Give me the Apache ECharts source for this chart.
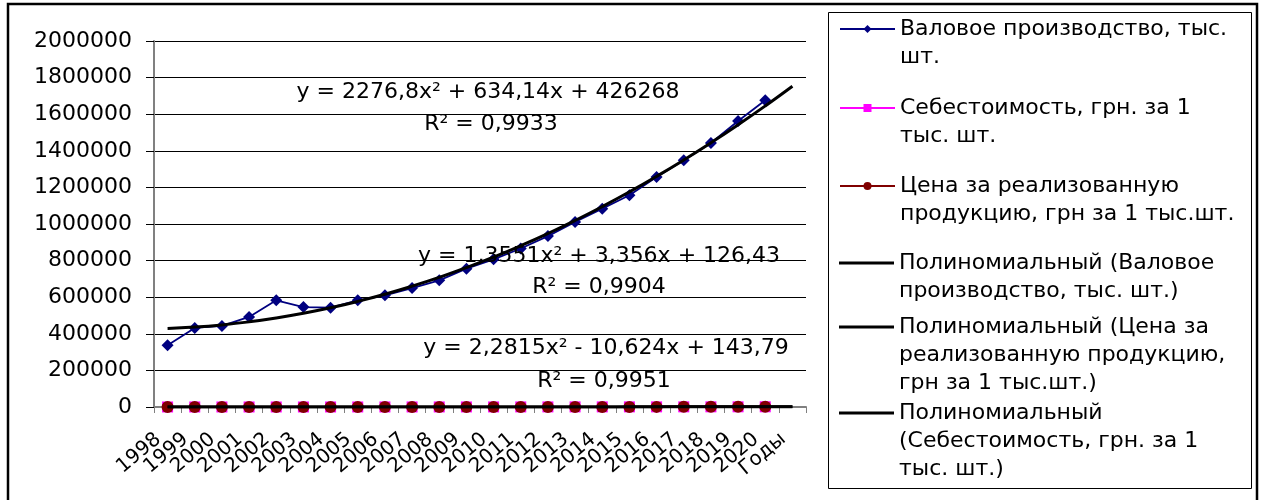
<!DOCTYPE html>
<html><head><meta charset="utf-8">
<script src="https://cdn.jsdelivr.net/npm/echarts@6/dist/echarts.min.js"></script>
<style>html,body{margin:0;padding:0;background:#fff}#c{width:1266px;height:500px}</style>
</head><body><div id="c"></div><script>
const years = ['1998','1999','2000','2001','2002','2003','2004','2005','2006','2007','2008','2009','2010','2011','2012','2013','2014','2015','2016','2017','2018','2019','2020','Годы'];
const grossOutput = [337000, 432000, 443000, 492000, 583000, 546000, 543000, 583000, 610000, 650000, 692000, 756000, 807000, 866000, 934000, 1011000, 1084000, 1157000, 1257000, 1348000, 1443000, 1563000, 1676000, null];
const costPerThousand = [140, 128, 130, 140, 150, 160, 175, 200, 235, 270, 300, 340, 395, 445, 500, 555, 620, 690, 770, 840, 925, 1010, 1110, null];
const pricePerThousand = [128, 140, 150, 160, 175, 195, 215, 240, 265, 295, 325, 360, 400, 440, 480, 525, 575, 625, 680, 735, 795, 855, 920, null];
const trendGross = [429179, 436643, 448662, 465233, 486359, 512038, 542270, 577056, 616396, 660289, 708736, 761737, 819291, 881399, 948060, 1019275, 1095044, 1175366, 1260241, 1349671, 1443654, 1542190, 1645280, 1752924];
const trendPrice = [131, 139, 149, 162, 177, 195, 216, 240, 266, 295, 327, 361, 399, 439, 481, 527, 575, 626, 679, 735, 794, 856, 920, 987];
const trendCost = [135, 131, 132, 137, 147, 162, 181, 205, 233, 266, 303, 344, 391, 442, 498, 558, 622, 691, 765, 843, 926, 1013, 1105, 1202];
const yTicks = {min: 0, max: 2000000, step: 200000};

const names = [
  'Валовое производство, тыс. шт.',
  'Себестоимость, грн. за 1 тыс. шт.',
  'Цена за реализованную продукцию, грн за 1 тыс.шт.',
  'Полиномиальный (Валовое производство, тыс. шт.)',
  'Полиномиальный (Цена за реализованную продукцию, грн за 1 тыс.шт.)',
  'Полиномиальный (Себестоимость, грн. за 1 тыс. шт.)'
];
const legendLines = [
  ['Валовое производство, тыс.', 'шт.'],
  ['Себестоимость, грн. за 1', 'тыс. шт.'],
  ['Цена за реализованную', 'продукцию, грн за 1 тыс.шт.'],
  ['Полиномиальный (Валовое', 'производство, тыс. шт.)'],
  ['Полиномиальный (Цена за', 'реализованную продукцию,', 'грн за 1 тыс.шт.)'],
  ['Полиномиальный', '(Себестоимость, грн. за 1', 'тыс. шт.)']
];
const equations = [
  ['y = 2276,8x² + 634,14x + 426268', 'R² = 0,9933'],
  ['y = 1,3551x² + 3,356x + 126,43', 'R² = 0,9904'],
  ['y = 2,2815x² - 10,624x + 143,79', 'R² = 0,9951']
];

const FONT = 'DejaVu Sans';
const LH = 28;
const iconY = [29, 108, 186, 263, 327, 413];

const legends = names.map((n, i) => {
  const lines = legendLines[i];
  const pad = lines.length - 1;
  const text = Array(pad).fill('').concat(lines).join('\n');
  const blockH = (pad + lines.length) * LH;
  const isTrend = i >= 3;
  return {
    show: true,
    orient: 'vertical',
    left: 839,
    top: iconY[i] - blockH / 2,
    padding: 0,
    selectedMode: false,
    itemWidth: 55,
    itemHeight: isTrend ? 3 : 10,
    data: [isTrend ? {name: n, icon: 'rect'} : {name: n}],
    formatter: () => text,
    textStyle: {fontFamily: FONT, fontSize: 22, lineHeight: LH, color: '#000'}
  };
});

const eqPos = [[488, 92, 491, 124], [599, 256, 599, 287], [606, 348, 604, 381]];
const graphics = [
  {type: 'rect', shape: {x: 8, y: 4, width: 1249, height: 502}, style: {fill: 'none', stroke: '#000', lineWidth: 2.5}, silent: true},
  {type: 'rect', shape: {x: 828.5, y: 12.5, width: 423, height: 476}, style: {fill: 'none', stroke: '#000', lineWidth: 1}, silent: true}
];
equations.forEach((eq, i) => {
  const p = eqPos[i];
  graphics.push({type: 'text', x: p[0], y: p[1], z: 10, silent: true,
    style: {text: eq[0], fill: '#000', font: '22px "DejaVu Sans"', align: 'center', verticalAlign: 'middle'}});
  graphics.push({type: 'text', x: p[2], y: p[3], z: 10, silent: true,
    style: {text: eq[1], fill: '#000', font: '22px "DejaVu Sans"', align: 'center', verticalAlign: 'middle'}});
});

const chart = echarts.init(document.getElementById('c'));
chart.setOption({
  animation: false,
  backgroundColor: '#fff',
  textStyle: {fontFamily: FONT},
  grid: {left: 154, right: 460, top: 41, bottom: 93, containLabel: false, outerBoundsMode: 'none'},
  legend: legends,
  graphic: graphics,
  xAxis: {
    type: 'category', data: years, boundaryGap: true,
    axisLine: {show: true, lineStyle: {color: '#808080', width: 2}},
    axisTick: {show: true, length: 6, lineStyle: {color: '#808080', width: 1}},
    axisLabel: {interval: 0, rotate: 40, fontSize: 20, color: '#000', margin: 22, padding: [0, 12, 0, 0], fontFamily: FONT},
    splitLine: {show: false}
  },
  yAxis: {
    type: 'value', min: yTicks.min, max: yTicks.max, interval: yTicks.step,
    axisLine: {show: true, lineStyle: {color: '#808080', width: 2}},
    axisTick: {show: true, length: 8, lineStyle: {color: '#000', width: 1}},
    axisLabel: {fontSize: 22, color: '#000', margin: 22, fontFamily: FONT, formatter: v => String(v)},
    splitLine: {show: true, lineStyle: {color: '#000', width: 1}}
  },
  series: [
    {name: names[0], type: 'line', data: grossOutput, symbol: 'diamond', symbolSize: 12, showAllSymbol: true,
      itemStyle: {color: '#000080'}, lineStyle: {color: '#000080', width: 1.8}, z: 3},
    {name: names[1], type: 'line', data: costPerThousand, symbol: 'rect', symbolSize: 11, showAllSymbol: true,
      itemStyle: {color: '#FF00FF'}, lineStyle: {color: '#FF00FF', width: 1.5}, z: 3},
    {name: names[2], type: 'line', data: pricePerThousand, symbol: 'circle', symbolSize: 12, showAllSymbol: true,
      itemStyle: {color: '#800000'}, lineStyle: {color: '#800000', width: 1.5}, z: 3},
    {name: names[3], type: 'line', data: trendGross, symbol: 'none', smooth: true,
      itemStyle: {color: '#000'}, lineStyle: {color: '#000', width: 3}, z: 5},
    {name: names[4], type: 'line', data: trendPrice, symbol: 'none', smooth: true,
      itemStyle: {color: '#000'}, lineStyle: {color: '#000', width: 3}, z: 5},
    {name: names[5], type: 'line', data: trendCost, symbol: 'none', smooth: true,
      itemStyle: {color: '#000'}, lineStyle: {color: '#000', width: 3}, z: 5}
  ]
});
</script></body></html>
